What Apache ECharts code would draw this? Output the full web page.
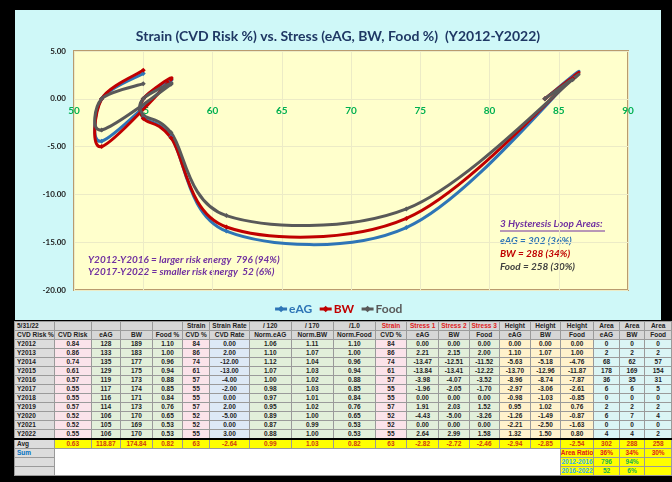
<!DOCTYPE html>
<html>
<head>
<meta charset="utf-8">
<script src="https://cdn.jsdelivr.net/npm/echarts/dist/echarts.min.js"></script>
<style>
  body { margin: 0; width: 672px; height: 482px; background: #000; overflow: hidden; position: relative; }
  #chart { position: absolute; left: 15px; top: 10px; width: 646px; height: 310px; background: #cff8f8; }
  #tbl { position: absolute; left: 14px; top: 321px; border-collapse: collapse; table-layout: fixed;
         font-family: 'Liberation Sans', Arial, sans-serif; font-size: 6.5px; font-weight: bold; color: #222; }
  #tbl td { border: 1px solid #9a9a9a; height: 8px; line-height: 8px; padding: 0; text-align: center;
            white-space: nowrap; overflow: hidden; }
  #tbl td.lab { text-align: left; padding-left: 2px; background: #dcdcdc; }
  #tbl tr.hd td { background: #d6d6d6; }
  #tbl tr.avg td { border-top: 2px solid #000; background: #ffff00; color: #d03a10; }
  #tbl tr.avg td.lab { background: #dcdcdc; color: #222; }
</style>
</head>
<body>
<div id="chart"></div>
<table id="tbl"></table>
<script>
// strain / stress data (Y2012 - Y2022)
const years = ['Y2012', 'Y2013', 'Y2014', 'Y2015', 'Y2016', 'Y2017', 'Y2018', 'Y2019', 'Y2020', 'Y2021', 'Y2022'];
const cvdRisk = [0.84, 0.86, 0.74, 0.61, 0.57, 0.55, 0.55, 0.57, 0.52, 0.52, 0.55];
const eag = [128, 133, 135, 129, 119, 117, 116, 114, 106, 105, 106];
const bw = [189, 183, 177, 175, 173, 174, 171, 173, 170, 169, 170];
const foodPct = [1.10, 1.00, 0.96, 0.94, 0.88, 0.85, 0.84, 0.76, 0.65, 0.53, 0.53];
const cvdPct = [84, 86, 74, 61, 57, 55, 55, 57, 52, 52, 55];
const cvdRate = [0, 2, -12, -13, -4, -2, 0, 2, -5, 0, 3];
const normEag = [1.06, 1.10, 1.12, 1.07, 1.00, 0.98, 0.97, 0.95, 0.89, 0.87, 0.88];
const normBw = [1.11, 1.07, 1.04, 1.03, 1.02, 1.03, 1.01, 1.02, 1.00, 0.99, 1.00];
const normFood = [1.10, 1.00, 0.96, 0.94, 0.88, 0.85, 0.84, 0.76, 0.65, 0.53, 0.53];
const stressEag = [0, 2.21, -13.47, -13.84, -3.98, -1.96, 0, 1.91, -4.43, 0, 2.64];
const stressBw = [0, 2.15, -12.51, -13.41, -4.07, -2.05, 0, 2.03, -5.00, 0, 2.99];
const stressFood = [0, 2.00, -11.52, -12.22, -3.52, -1.70, 0, 1.52, -3.26, 0, 1.58];
const heightEag = [0, 1.10, -5.63, -13.70, -8.96, -2.97, -0.98, 0.95, -1.26, -2.21, 1.32];
const heightBw = [0, 1.07, -5.18, -12.96, -8.74, -3.06, -1.03, 1.02, -1.49, -2.50, 1.50];
const heightFood = [0, 1.00, -4.76, -11.87, -7.87, -2.61, -0.85, 0.76, -0.87, -1.63, 0.80];
const areaEag = [0, 2, 68, 178, 36, 6, 0, 2, 6, 0, 4];
const areaBw = [0, 2, 62, 169, 35, 6, 0, 2, 7, 0, 4];
const areaFood = [0, 2, 57, 154, 31, 5, 0, 2, 4, 0, 2];
const avgRow = ['0.63', '118.87', '174.84', '0.82', '63', '-2.64', '0.99', '1.03', '0.82', '63',
                '-2.82', '-2.72', '-2.46', '-2.94', '-2.85', '-2.54', '302', '288', '258'];
const areaRatio = ['36%', '34%', '30%'];
const energy1 = ['796', '94%'];
const energy2 = ['52', '6%'];

const headTop = ['5/31/22', '', '', '', '', 'Strain', 'Strain Rate', '/ 120', '/ 170', '/1.0', 'Strain',
                 'Stress 1', 'Stress 2', 'Stress 3', 'Height', 'Height', 'Height', 'Area', 'Area', 'Area'];
const headSub = ['CVD Risk %', 'CVD Risk', 'eAG', 'BW', 'Food %', 'CVD %', 'CVD Rate', 'Norm.eAG', 'Norm.BW',
                 'Norm.Food', 'CVD %', 'eAG', 'BW', 'Food', 'eAG', 'BW', 'Food', 'eAG', 'BW', 'Food'];

const colors = { eAG: '#2e75b6', BW: '#c00000', Food: '#595959' };

// ---------- chart ----------
const chart = echarts.init(document.getElementById('chart'));
const font = 'Lato';
const gridTop = 41, gridH = 239, yMin = -20, yMax = 5;

// excel-like smoothed line (catmull-rom through the data points, in pixel space)
function splinePath(api, ys) {
  const pts = cvdPct.map((x, i) => api.coord([x, ys[i]]));
  let d = 'M' + pts[0][0] + ' ' + pts[0][1];
  for (let i = 0; i < pts.length - 1; i++) {
    const p0 = pts[Math.max(i - 1, 0)], p1 = pts[i], p2 = pts[i + 1], p3 = pts[Math.min(i + 2, pts.length - 1)];
    const c1 = [p1[0] + (p2[0] - p0[0]) / 6, p1[1] + (p2[1] - p0[1]) / 6];
    const c2 = [p2[0] - (p3[0] - p1[0]) / 6, p2[1] - (p3[1] - p1[1]) / 6];
    d += ' C' + c1.join(' ') + ' ' + c2.join(' ') + ' ' + p2.join(' ');
  }
  return d;
}
const curveSeries = (name, ys) => ({
  name: name + ' curve',
  type: 'custom',
  silent: true,
  encode: { x: 0, y: 1 },
  data: [[cvdPct[0], ys[0]]],
  renderItem: (params, api) => ({
    type: 'path',
    shape: { pathData: splinePath(api, ys) },
    style: { stroke: colors[name], lineWidth: 3, fill: 'none' }
  })
});
const markerSeries = (name, ys) => ({
  name: name,
  type: 'line',
  data: cvdPct.map((x, i) => [x, ys[i]]),
  symbol: 'diamond',
  symbolSize: 5,
  lineStyle: { width: 3, color: colors[name], opacity: 0 },
  itemStyle: { color: colors[name] },
  z: 3
});
const txt = (x, y, text, color) => ({
  type: 'text', left: x, top: y,
  style: { text: text, fill: color, font: 'italic bold 10px Lato' }
});

chart.setOption({
  animation: false,
  title: {
    text: 'Strain (CVD Risk %) vs. Stress (eAG, BW, Food %)  (Y2012-Y2022)',
    left: 'center', top: 14,
    textStyle: { fontFamily: font, fontSize: 14, fontWeight: 'bold', color: '#1f3864' }
  },
  grid: {
    left: 59, top: gridTop, width: 554, height: gridH, show: true,
    backgroundColor: '#ffffcc', borderColor: '#b99b6e', borderWidth: 2
  },
  xAxis: {
    type: 'value', min: 50, max: 90, interval: 5,
    // labels sit on the zero line of the y axis
    offset: -gridH * (0 - yMin) / (yMax - yMin),
    axisLine: { show: false, onZero: false },
    axisTick: { show: false },
    axisLabel: { color: '#00b050', fontFamily: font, fontWeight: 'bold', fontSize: 10, margin: 7 },
    splitLine: { lineStyle: { color: '#ecebc6' } }
  },
  yAxis: {
    type: 'value', min: yMin, max: yMax, interval: 5,
    axisLine: { show: false },
    axisTick: { show: false },
    axisLabel: { color: '#222', fontFamily: font, fontWeight: 'bold', fontSize: 8, margin: 8,
                 formatter: v => v.toFixed(2) },
    splitLine: { lineStyle: { color: '#ecebc6' } }
  },
  legend: {
    bottom: 0, left: 'center', itemWidth: 12, itemHeight: 8, itemGap: 6,
    textStyle: { fontFamily: font, fontSize: 12, fontWeight: 'bold', padding: [0, 0, 0, -3] },
    data: ['eAG', 'BW', 'Food'].map(n => ({ name: n, textStyle: { color: colors[n] }, lineStyle: { opacity: 1, width: 3 } }))
  },
  series: [
    curveSeries('eAG', stressEag), curveSeries('BW', stressBw), curveSeries('Food', stressFood),
    markerSeries('eAG', stressEag), markerSeries('BW', stressBw), markerSeries('Food', stressFood)
  ],
  graphic: [
    txt(73, 245, 'Y2012-Y2016 = larger risk energy  ' + energy1[0] + ' (' + energy1[1] + ')', '#7030a0'),
    txt(73, 257, 'Y2017-Y2022 = smaller risk energy  ' + energy2[0] + ' (' + energy2[1] + ')', '#7030a0'),
    txt(485, 209, '3 Hysteresis Loop Areas:', '#7030a0'),
    { type: 'line', shape: { x1: 485, y1: 221, x2: 590, y2: 221 }, style: { stroke: '#7030a0', lineWidth: 1 } },
    txt(485, 226, 'eAG = ' + avgRow[16] + ' (' + areaRatio[0] + ')', colors.eAG),
    txt(485, 239, 'BW = ' + avgRow[17] + ' (' + areaRatio[1] + ')', colors.BW),
    txt(485, 252, 'Food = ' + avgRow[18] + ' (' + areaRatio[2] + ')', '#404040')
  ]
});

// ---------- table ----------
const widths = [36, 37, 30, 32, 31, 27, 40, 42, 43, 42, 32, 32, 31, 30, 32, 30, 31, 26, 26, 27];
const colBg = ['#dcdcdc', '#fbe3ea', '#e2efda', '#e2efda', '#e2efda', '#fbe3ea', '#dde9f6', '#e2efda', '#e2efda',
               '#e2efda', '#fbe3ea', '#e2efda', '#e2efda', '#e2efda', '#fff2cc', '#fff2cc', '#fff2cc',
               '#dbf5f5', '#dbf5f5', '#dbf5f5'];
const redHead = [10, 11, 12, 13];
const f2 = v => v.toFixed(2);
const cols = [cvdRisk.map(f2), eag, bw, foodPct.map(f2), cvdPct, cvdRate.map(f2), normEag.map(f2), normBw.map(f2),
              normFood.map(f2), cvdPct, stressEag.map(f2), stressBw.map(f2), stressFood.map(f2),
              heightEag.map(f2), heightBw.map(f2), heightFood.map(f2), areaEag, areaBw, areaFood];

let html = '<colgroup>' + widths.map(w => '<col style="width:' + w + 'px">').join('') + '</colgroup>';
html += '<tr class="hd">' + headTop.map((t, i) =>
  '<td' + (i === 0 ? ' class="lab"' : '') + (redHead.includes(i) ? ' style="color:#e0201a"' : '') + '>' + t + '</td>').join('') + '</tr>';
html += '<tr class="hd">' + headSub.map((t, i) => '<td' + (i === 0 ? ' class="lab"' : '') + '>' + t + '</td>').join('') + '</tr>';
years.forEach((y, r) => {
  html += '<tr><td class="lab">' + y + '</td>' +
    cols.map((c, i) => '<td style="background:' + colBg[i + 1] + '">' + c[r] + '</td>').join('') + '</tr>';
});
html += '<tr class="avg"><td class="lab">Avg</td>' + avgRow.map(v => '<td>' + v + '</td>').join('') + '</tr>';
const yel = (t, c) => '<td style="background:#ffff00;color:' + c + '">' + t + '</td>';
html += '<tr><td class="lab" style="color:#0070c0">Sum</td><td colspan="15" rowspan="3" style="background:#fff"></td>' +
  yel('Area Ratio', '#e0201a') + areaRatio.map(v => yel(v, '#e0201a')).join('') + '</tr>';
html += '<tr><td class="lab"></td>' + yel('2012-2016', '#30b0f0') + energy1.map(v => yel(v, '#20b050')).join('') + yel('', '#000') + '</tr>';
html += '<tr><td class="lab"></td>' + yel('2016-2022', '#30b0f0') + energy2.map(v => yel(v, '#20b050')).join('') + yel('', '#000') + '</tr>';
document.getElementById('tbl').innerHTML = html;
</script>
</body>
</html>
